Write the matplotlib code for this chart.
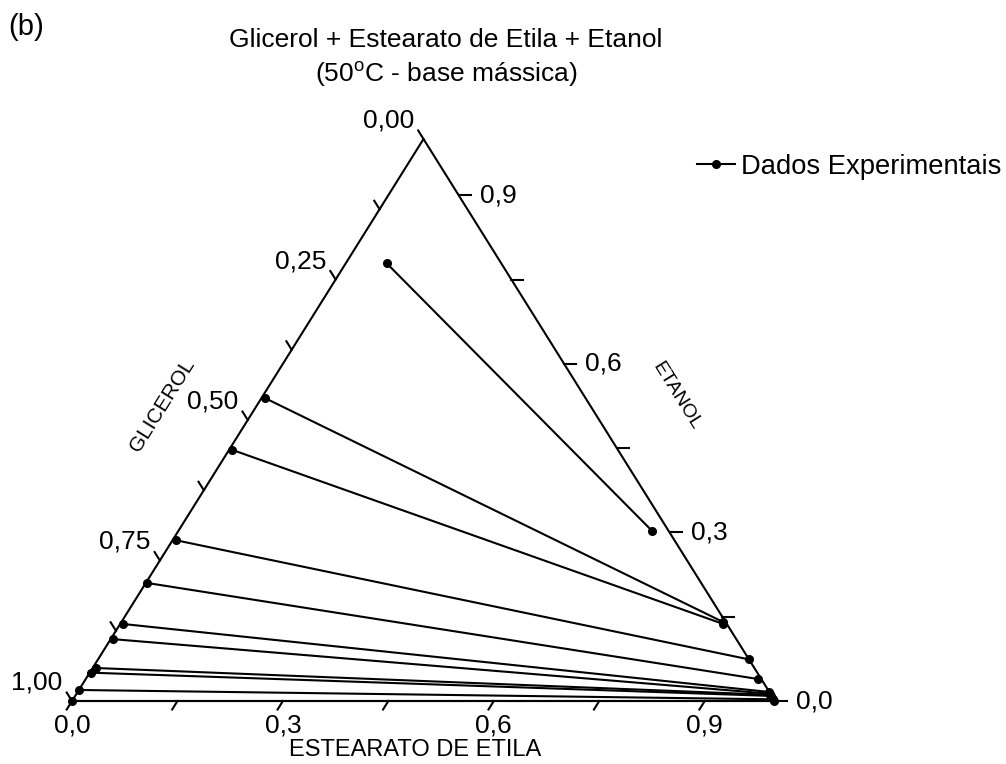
import matplotlib
matplotlib.use('Agg')
import matplotlib.pyplot as plt
import numpy as np

plt.rcParams['font.family'] = ['Liberation Sans', 'DejaVu Sans']
plt.rcParams['mathtext.fontset'] = 'custom'
plt.rcParams['mathtext.rm'] = 'Liberation Sans'

# fase rica em glicerol (fracoes massicas)
est_fase_gli = [0.058, 0.005, 0.004, 0.005, 0.002, 0.0045, 0.004, 0.005, 0.0014, 0.0006, 0.0]
eta_fase_gli = [0.779, 0.539, 0.447, 0.286, 0.210, 0.137, 0.110, 0.0587, 0.0504, 0.0196, 0.0]
# fase rica em estearato de etila
est_fase_est = [0.674, 0.855, 0.858, 0.926, 0.957, 0.984, 0.986, 0.988, 0.990, 0.996, 0.999]
eta_fase_est = [0.3025, 0.141, 0.137, 0.074, 0.039, 0.016, 0.013, 0.011, 0.009, 0.003, 0.0]

ticks_est = [0.0, 0.15, 0.3, 0.45, 0.6, 0.75, 0.9]
ticks_eta = [0.0, 0.15, 0.3, 0.45, 0.6, 0.75, 0.9]
ticks_gli = [0.0, 0.125, 0.25, 0.375, 0.5, 0.625, 0.75, 0.875, 1.0]
labels_est = {0.0: '0,0', 0.3: '0,3', 0.6: '0,6', 0.9: '0,9'}
labels_eta = {0.0: '0,0', 0.3: '0,3', 0.6: '0,6', 0.9: '0,9'}
labels_gli = {0.0: '0,00', 0.25: '0,25', 0.5: '0,50', 0.75: '0,75', 1.0: '1,00'}

# triangle size in pixels (not equilateral in the original)
W, H = 703.0, 562.0


def tern(s, e):
    s = np.asarray(s, dtype=float)
    e = np.asarray(e, dtype=float)
    return s + e / 2.0, e


def px(dx, dy):
    return dx / W, dy / H


fig = plt.figure(figsize=(10.06, 7.64), dpi=100)
ax = fig.add_axes([72 / 1006, 63 / 764, W / 1006, H / 764])
ax.set_xlim(0, 1)
ax.set_ylim(0, 1)
ax.axis('off')

lw = 1.5
fs = 19
# triangle
ax.plot([0, 1, 0.5, 0], [0, 0, 1, 0], color='black', lw=lw, clip_on=False)

tl = 10.0
# bottom ticks (Estearato), parallel to left edge
bx, by = px(-0.53 * tl, -0.85 * tl)
for s in ticks_est:
    ax.plot([s, s + bx], [0, by], color='black', lw=lw, clip_on=False)
    if s in labels_est:
        ax.text(s, -12 / H, labels_est[s], ha='center', va='top', fontsize=fs)

# right ticks (Etanol), horizontal
rx, ry = px(12, 0)
for e in ticks_eta:
    x0, y0 = tern(1 - e, e)
    ax.plot([x0, x0 + rx], [y0, y0], color='black', lw=lw, clip_on=False)
    if e in labels_eta:
        ax.text(x0 + rx + 9 / W, y0, labels_eta[e], ha='left', va='center', fontsize=fs)

# left ticks (Glicerol), parallel to right edge
lx, ly = px(-0.53 * tl, 0.85 * tl)
for g in ticks_gli:
    x0, y0 = tern(0.0, 1 - g)
    ax.plot([x0, x0 + lx], [y0, y0 + ly], color='black', lw=lw, clip_on=False)
    if g in labels_gli:
        ax.text(x0 + lx - 4 / W, y0 + ly - 2 / H, labels_gli[g], ha='right', va='bottom', fontsize=fs)

# axis titles
fig.text(415 / 1006, 1 - 750 / 764, 'ESTEARATO DE ETILA', ha='center', va='center', fontsize=17)
fig.text(162 / 1006, 1 - 405 / 764, 'GLICEROL', ha='center', va='center', fontsize=15, rotation=58)
fig.text(676 / 1006, 1 - 396 / 764, 'ETANOL', ha='center', va='center', fontsize=14, rotation=-58)

# tie lines
xg, yg = tern(est_fase_gli, eta_fase_gli)
xe, ye = tern(est_fase_est, eta_fase_est)
for i in range(len(xg)):
    ax.plot([xg[i], xe[i]], [yg[i], ye[i]], color='black', lw=lw, marker='o', ms=5.5,
            clip_on=False, label='Dados Experimentais' if i == 0 else None)

leg = fig.legend(loc='center left', bbox_to_anchor=(697 / 1006, 1 - 167 / 764), frameon=False,
                 fontsize=19.7, handlelength=1.39, handletextpad=0.22, borderpad=0, borderaxespad=0)

fig.text(446 / 1006, 1 - 40 / 764, 'Glicerol + Estearato de Etila + Etanol', ha='center', va='center', fontsize=fs)
fig.text(446 / 1006, 1 - 74 / 764, r'(50$^{\mathrm{o}}$C - base mássica)', ha='center', va='center', fontsize=fs)
fig.text(8 / 1006, 1 - 27 / 764, '(b)', ha='left', va='center', fontsize=21)

fig.savefig('out.png', dpi=100)
